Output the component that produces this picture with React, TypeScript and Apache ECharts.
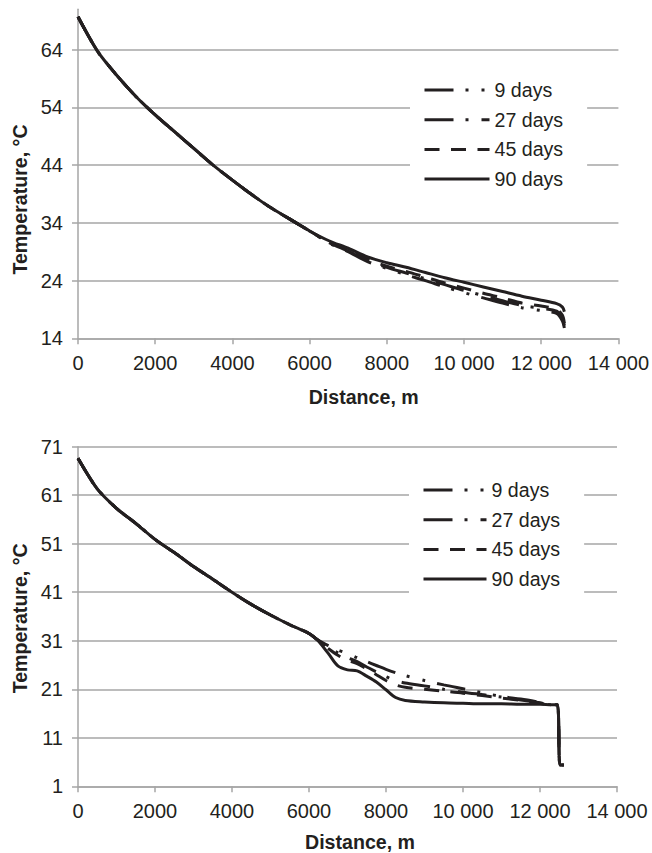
import React, { useEffect, useRef } from "react";
import * as echarts from "echarts";

// ---------- data ----------
const seriesNames = ["9 days", "27 days", "45 days", "90 days"];

// Top chart
const topDist = [0, 500, 1000, 1500, 2000, 2500, 3000, 3500, 4000, 4500, 5000, 5500, 6000,
  6500, 7000, 7500, 8000, 8500, 9000, 9500, 10000, 10500, 11000, 11500, 12000, 12400, 12550, 12600];
const topCommon = [69.7, 63.8, 59.6, 55.9, 52.7, 49.8, 46.9, 44.0, 41.4, 38.9, 36.6, 34.6, 32.6];
const top9 = [30.5, 29.0, 27.3, 26.1, 25.0, 24.0, 22.9, 21.9, 21.0, 20.1, 19.3, 18.8, 18.3, 17.0, 15.8];
const top27 = [30.6, 29.1, 27.5, 26.3, 25.3, 24.3, 23.3, 22.3, 21.4, 20.5, 19.7, 19.2, 18.7, 17.4, 16.2];
const top45 = [30.7, 29.3, 27.7, 26.5, 25.6, 24.6, 23.6, 22.7, 21.8, 21.0, 20.1, 19.6, 19.0, 18.0, 16.6];
const top90 = [30.9, 29.6, 28.1, 27.1, 26.3, 25.4, 24.5, 23.7, 22.9, 22.1, 21.3, 20.6, 20.0, 19.4, 18.6];

// Bottom chart
const botDist = [0, 500, 1000, 1500, 2000, 2500, 3000, 3500, 4000, 4500, 5000, 5500, 6000, 6200,
  6500, 6750, 7000, 7250, 7500, 7750, 8000, 8250, 8500, 9000, 9500, 10000, 10500, 11000, 11500,
  12000, 12300, 12450, 12520, 12620];
const botCommon = [68.6, 62.3, 58.3, 55.2, 51.9, 49.2, 46.3, 43.7, 41.0, 38.5, 36.3, 34.3, 32.5, 31.3];
const bot9 = [30.0, 29.1, 28.4, 27.5, 26.7, 25.9, 25.1, 24.4, 23.8, 22.8, 21.9, 21.1, 20.3, 19.5,
  19.0, 18.3, 17.8, 17.8, 5.4, 5.4];
const bot27 = [29.6, 28.5, 27.5, 26.7, 25.6, 24.6, 23.6, 22.8, 22.3, 21.7, 21.0, 20.4, 19.9, 19.4,
  18.8, 18.2, 17.8, 17.8, 5.4, 5.4];
const bot45 = [29.4, 28.0, 27.0, 26.3, 25.2, 24.0, 22.8, 21.9, 21.4, 21.0, 20.6, 20.2, 19.7, 19.2,
  18.7, 18.1, 17.8, 17.8, 5.4, 5.4];
const bot90 = [28.4, 25.8, 25.0, 24.8, 23.7, 22.5, 20.9, 19.3, 18.7, 18.4, 18.2, 18.1, 18.0, 18.0,
  17.9, 17.9, 17.8, 17.8, 5.4, 5.4];

const topYTicks = [14, 24, 34, 44, 54, 64];
const botYTicks = [1, 11, 21, 31, 41, 51, 61, 71];

// ---------- styles ----------
const FONT = "'Liberation Sans', Arial, Helvetica, sans-serif";
const TEXT = "#231f20";
const GRID = "#a6a6a6";
const LINE = "#231f20";
const dashes: (number[] | string)[] = [
  [29, 12, 3, 13, 3, 12],
  [29, 12, 3, 13],
  [15, 11.5],
  "solid",
];

function fmtDist(v: number) {
  if (v >= 10000) {
    const s = String(v);
    return s.slice(0, s.length - 3) + " " + s.slice(s.length - 3);
  }
  return String(v);
}

function pairs(xs: number[], ys: number[]) {
  return xs.map((x, i) => [x, ys[i]]);
}

export default function App() {
  const ref = useRef<HTMLDivElement>(null);
  useEffect(() => {
    if (!ref.current) return;
    const chart = echarts.init(ref.current, undefined, { renderer: "svg" });

    const xAxisBase = (gridIndex: number) => ({
      type: "value",
      gridIndex,
      min: 0,
      max: 14000,
      interval: 2000,
      axisLine: { show: true, lineStyle: { color: GRID, width: 1.5 } },
      axisTick: { show: true, length: 6, inside: false, lineStyle: { color: GRID, width: 1.5 } },
      splitLine: { show: false },
      axisLabel: {
        margin: 15,
        fontSize: 20,
        fontFamily: FONT,
        color: TEXT,
        formatter: (v: number) => fmtDist(v),
      },
    });

    const yAxisBase = (gridIndex: number, min: number, max: number, ticks: number[]) => ({
      type: "value",
      gridIndex,
      min,
      max,
      axisLine: { show: true, lineStyle: { color: GRID, width: 1.5 } },
      axisTick: { show: true, length: 6, customValues: ticks, lineStyle: { color: GRID, width: 1.5 } },
      splitLine: { show: true, lineStyle: { color: GRID, width: 1.5 } },
      axisLabel: {
        margin: 15,
        fontSize: 20,
        fontFamily: FONT,
        color: TEXT,
        customValues: ticks,
      },
    });

    const mkSeries = (
      name: string,
      idx: number,
      data: number[][],
      axisIndex: number
    ) => ({
      name,
      type: "line",
      xAxisIndex: axisIndex,
      yAxisIndex: axisIndex,
      data,
      showSymbol: false,
      symbol: "none",
      smooth: 0.3,
      lineStyle: { color: LINE, width: 3, type: dashes[idx] },
      itemStyle: { color: LINE },
      z: 2 + idx,
    });

    const topSets = [top9, top27, top45, top90];
    const botSets = [bot9, bot27, bot45, bot90];

    const series: any[] = [];
    topSets.forEach((s, i) => {
      series.push(mkSeries(seriesNames[i], i, pairs(topDist, topCommon.concat(s)), 0));
    });
    botSets.forEach((s, i) => {
      series.push(mkSeries(seriesNames[i], i, pairs(botDist, botCommon.concat(s)), 1));
    });

    const legendBase = (left: number, top: number, itemWidth: number) => ({
      orient: "vertical",
      left,
      top,
      padding: [10, 24, 10, 13],
      backgroundColor: "#ffffff",
      itemWidth,
      itemHeight: 14,
      itemGap: 9.7,
      selectedMode: false,
      data: seriesNames,
      lineStyle: { width: 3 },
      itemStyle: { opacity: 0, color: "transparent", borderWidth: 0 },
      textStyle: { fontSize: 19.6, lineHeight: 20, fontFamily: FONT, color: TEXT },
      z: 10,
    });

    const titleText = (text: string, x: number, y: number, rot: number) => ({
      type: "text",
      x,
      y,
      rotation: rot,
      style: {
        text,
        x: 0,
        y: 0,
        align: "center",
        verticalAlign: "middle",
        fontSize: 19.6,
        fontWeight: "bold",
        fontFamily: FONT,
        fill: TEXT,
      },
    });

    chart.setOption({
      animation: false,
      backgroundColor: "#ffffff",
      grid: [
        { left: 78, right: 33, top: 9.3, height: 329, containLabel: false },
        { left: 78, right: 35, top: 446.7, height: 339.6, containLabel: false },
      ],
      xAxis: [xAxisBase(0), xAxisBase(1)],
      yAxis: [yAxisBase(0, 14, 71, topYTicks), yAxisBase(1, 1, 71, botYTicks)],
      legend: [legendBase(410, 70, 65), legendBase(409, 470, 63)],
      series,
      graphic: [
        titleText("Temperature, °C", 19.5, 199.5, Math.PI / 2),
        titleText("Distance, m", 363.7, 396.7, 0),
        titleText("Temperature, °C", 19.5, 618.3, Math.PI / 2),
        titleText("Distance, m", 360, 841.7, 0),
      ],
    });

    return () => chart.dispose();
  }, []);

  return (
    <div
      ref={ref}
      style={{ position: "fixed", left: 0, top: 0, width: 652, height: 853, background: "#fff" }}
    />
  );
}
